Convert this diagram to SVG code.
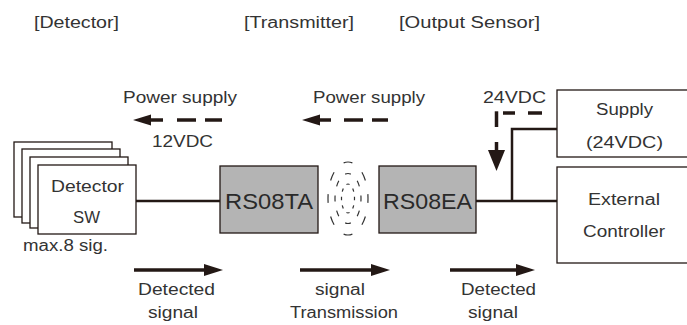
<svg xmlns="http://www.w3.org/2000/svg" width="687" height="325" viewBox="0 0 687 325">
<style>
text{font-family:"Liberation Sans",Arial,sans-serif;font-size:16px;fill:#333;}
.big{font-size:22px;fill:#2a2a2a;}
.box{fill:#fff;stroke:#231815;stroke-width:1.3;}
.gray{fill:#b4b4b4;stroke:#231815;stroke-width:1.3;}
.wire{fill:none;stroke:#231815;stroke-width:2.5;}
.thick{fill:none;stroke:#231815;stroke-width:3.5;}
.head{fill:#231815;}
.wave{fill:none;stroke:#333;stroke-width:1.2;stroke-dasharray:0.8 1.2;stroke-dashoffset:0.4;}
</style>
<g id="headers">
<text x="34" y="28" textLength="85" lengthAdjust="spacingAndGlyphs">[Detector]</text>
<text x="244" y="28" textLength="110" lengthAdjust="spacingAndGlyphs">[Transmitter]</text>
<text x="399" y="28" textLength="141" lengthAdjust="spacingAndGlyphs">[Output Sensor]</text>
</g>
<g id="detector">
<rect class="box" x="14" y="142" width="98" height="75"/>
<rect class="box" x="22" y="149" width="98" height="74"/>
<rect class="box" x="30" y="157" width="98" height="71"/>
<rect class="box" x="38" y="165" width="98" height="69"/>
<text x="51" y="192" textLength="73" lengthAdjust="spacingAndGlyphs">Detector</text>
<text x="73" y="223" textLength="27" lengthAdjust="spacingAndGlyphs">SW</text>
<text x="23" y="251" textLength="85" lengthAdjust="spacingAndGlyphs">max.8 sig.</text>
</g>
<g id="rs08ta">
<rect class="gray" x="220" y="166" width="98" height="67"/>
<text class="big" x="225" y="209" textLength="88" lengthAdjust="spacingAndGlyphs">RS08TA</text>
</g>
<g id="waves">
<ellipse class="wave" cx="348" cy="198.5" rx="20" ry="36.5" pathLength="16"/>
<ellipse class="wave" cx="348" cy="198.5" rx="13" ry="25" pathLength="16"/>
<ellipse class="wave" cx="348" cy="198.5" rx="6.5" ry="14.5" pathLength="16"/>
</g>
<g id="rs08ea">
<rect class="gray" x="379" y="166" width="97" height="67"/>
<text class="big" x="383" y="209" textLength="89" lengthAdjust="spacingAndGlyphs">RS08EA</text>
</g>
<g id="supply">
<rect class="box" x="557" y="90" width="140" height="67"/>
<text x="596" y="115" textLength="57" lengthAdjust="spacingAndGlyphs">Supply</text>
<text x="586" y="148" textLength="77" lengthAdjust="spacingAndGlyphs">(24VDC)</text>
</g>
<g id="controller">
<rect class="box" x="557" y="167" width="140" height="96"/>
<text x="588" y="205" textLength="72" lengthAdjust="spacingAndGlyphs">External</text>
<text x="583" y="237" textLength="82" lengthAdjust="spacingAndGlyphs">Controller</text>
</g>
<g id="connectors">
<line class="wire" x1="136" y1="201" x2="220" y2="201"/>
<line class="wire" x1="476" y1="201" x2="557" y2="201"/>
<polyline class="wire" points="512,201 512,129 557,129"/>
<polygon class="head" points="133,120 151,114.5 151,125.5"/>
<line class="thick" x1="150" y1="120" x2="163" y2="120"/>
<line class="thick" x1="177" y1="120" x2="196" y2="120"/>
<line class="thick" x1="205" y1="120" x2="222" y2="120"/>
<polygon class="head" points="302,120 320,114.5 320,125.5"/>
<line class="thick" x1="319" y1="120" x2="331" y2="120"/>
<line class="thick" x1="344" y1="120" x2="363" y2="120"/>
<line class="thick" x1="372" y1="120" x2="388" y2="120"/>
<line class="thick" x1="528" y1="113" x2="542" y2="113"/>
<line class="thick" x1="503" y1="113" x2="515" y2="113"/>
<line class="thick" x1="496.5" y1="111.3" x2="496.5" y2="127"/>
<line class="thick" x1="496.5" y1="142" x2="496.5" y2="151"/>
<polygon class="head" points="488,150 505,150 496.5,171"/>
<line class="thick" x1="134" y1="270" x2="206" y2="270"/>
<polygon class="head" points="204,264 223,270 204,276"/>
<line class="thick" x1="300" y1="270" x2="373" y2="270"/>
<polygon class="head" points="371,264 390,270 371,276"/>
<line class="thick" x1="450" y1="270" x2="518" y2="270"/>
<polygon class="head" points="516,264 535,270 516,276"/>
</g>
<g id="labels">
<text x="123" y="103" textLength="114" lengthAdjust="spacingAndGlyphs">Power supply</text>
<text x="313" y="103" textLength="112" lengthAdjust="spacingAndGlyphs">Power supply</text>
<text x="152" y="147" textLength="61" lengthAdjust="spacingAndGlyphs">12VDC</text>
<text x="483" y="103" textLength="63" lengthAdjust="spacingAndGlyphs">24VDC</text>
<text x="138" y="295" textLength="77" lengthAdjust="spacingAndGlyphs">Detected</text>
<text x="148" y="318" textLength="50" lengthAdjust="spacingAndGlyphs">signal</text>
<text x="315" y="295" textLength="50" lengthAdjust="spacingAndGlyphs">signal</text>
<text x="290" y="318" textLength="108" lengthAdjust="spacingAndGlyphs">Transmission</text>
<text x="461" y="295" textLength="75" lengthAdjust="spacingAndGlyphs">Detected</text>
<text x="468" y="318" textLength="50" lengthAdjust="spacingAndGlyphs">signal</text>
</g>
</svg>
